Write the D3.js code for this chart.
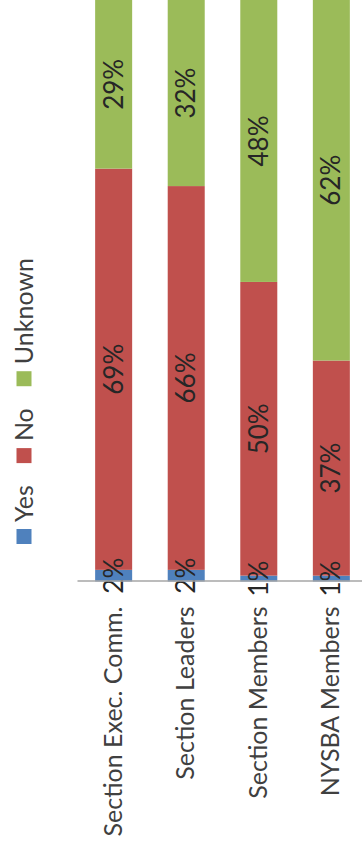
<!DOCTYPE html>
<html>
<head>
<meta charset="utf-8">
<script src="https://cdn.jsdelivr.net/npm/d3@7"></script>
<style>
  body { margin: 0; background: #fff; }
  svg { display: block; }
  text { font-family: Lato, "Open Sans", sans-serif; fill: #404040; }
</style>
</head>
<body>
<div class="chart"></div>
<script>
// chart data (percent of respondents)
var groups = ["Section Exec. Comm.", "Section Leaders", "Section Members", "NYSBA Members"];
var answers = ["Yes", "No", "Unknown"];
var yesVals = [2, 2, 1, 1];
var noVals = [69, 66, 50, 37];
var unknownVals = [29, 32, 48, 62];
var colors = ["#4f81bd", "#c0504d", "#9bbb59"];

drawchart();

function drawchart() {
  var svgWidth = 362, svgHeight = 844;

  var svg = d3.select(".chart")
    .append("svg")
      .attr("width", svgWidth)
      .attr("height", svgHeight);

  // the whole chart is turned on its side, so draw it in a rotated frame
  // local x runs up the page, local y runs to the right
  var g = svg.append("g")
    .attr("transform", "translate(0," + svgHeight + ") rotate(-90)");

  var rows = groups.map(function(name, i) {
    return { group: name, Yes: yesVals[i], No: noVals[i], Unknown: unknownVals[i] };
  });

  var stack = d3.stack()
    .keys(answers)
    .offset(d3.stackOffsetExpand);
  var series = stack(rows);

  var x = d3.scaleLinear()
    .domain([0, 1])
    .range([262.5, 844]);

  var y = d3.scaleBand()
    .domain(groups)
    .range([77, 368])
    .paddingInner(0.49)
    .paddingOuter(0.25);

  var color = d3.scaleOrdinal()
    .domain(answers)
    .range(colors);

  g.selectAll(".layer")
    .data(series)
    .enter()
    .append("g")
      .attr("class", "layer")
      .attr("fill", function(d) { return color(d.key); })
    .selectAll("rect")
    .data(function(d) { return d; })
    .enter()
    .append("rect")
      .attr("x", function(d) { return x(d[0]); })
      .attr("y", function(d) { return y(d.data.group); })
      .attr("width", function(d) { return x(d[1]) - x(d[0]); })
      .attr("height", y.bandwidth());

  // value labels centred on each segment, drawn on top of all bars
  var segs = [];
  series.forEach(function(s) {
    s.forEach(function(p) { segs.push({ key: s.key, p: p }); });
  });

  g.append("g")
    .selectAll("text")
    .data(segs)
    .enter()
    .append("text")
      .attr("x", function(d) { return (x(d.p[0]) + x(d.p[1])) / 2; })
      .attr("y", function(d) { return y(d.p.data.group) + y.bandwidth() / 2; })
      .attr("dy", "0.35em")
      .attr("text-anchor", "middle")
      .style("font-size", "26px")
      .style("fill", "#262626")
      .text(function(d) { return d.p.data[d.key] + "%"; });

  // category axis
  var axis = g.append("g")
    .attr("transform", "translate(" + x(0) + ",0)")
    .call(d3.axisLeft(y).tickSize(0).tickPadding(25).tickSizeOuter(0));
  axis.select(".domain").attr("stroke", "#a6a6a6").attr("stroke-width", 1.5);
  axis.selectAll("text")
    .style("font-size", "25px")
    .style("font-family", "Lato, 'Open Sans', sans-serif")
    .attr("fill", "#404040");

  // legend
  var legend = g.append("g").attr("transform", "translate(300,24)");
  var pos = 0;
  answers.forEach(function(key) {
    var item = legend.append("g").attr("transform", "translate(" + pos + ",0)");
    item.append("rect")
      .attr("x", 0)
      .attr("y", -7.5)
      .attr("width", 15)
      .attr("height", 15)
      .attr("fill", color(key));
    var t = item.append("text")
      .attr("x", 22)
      .attr("dy", "0.35em")
      .style("font-size", "25px")
      .text(key);
    pos += 22 + t.node().getComputedTextLength() + 22;
  });
}
</script>
</body>
</html>
